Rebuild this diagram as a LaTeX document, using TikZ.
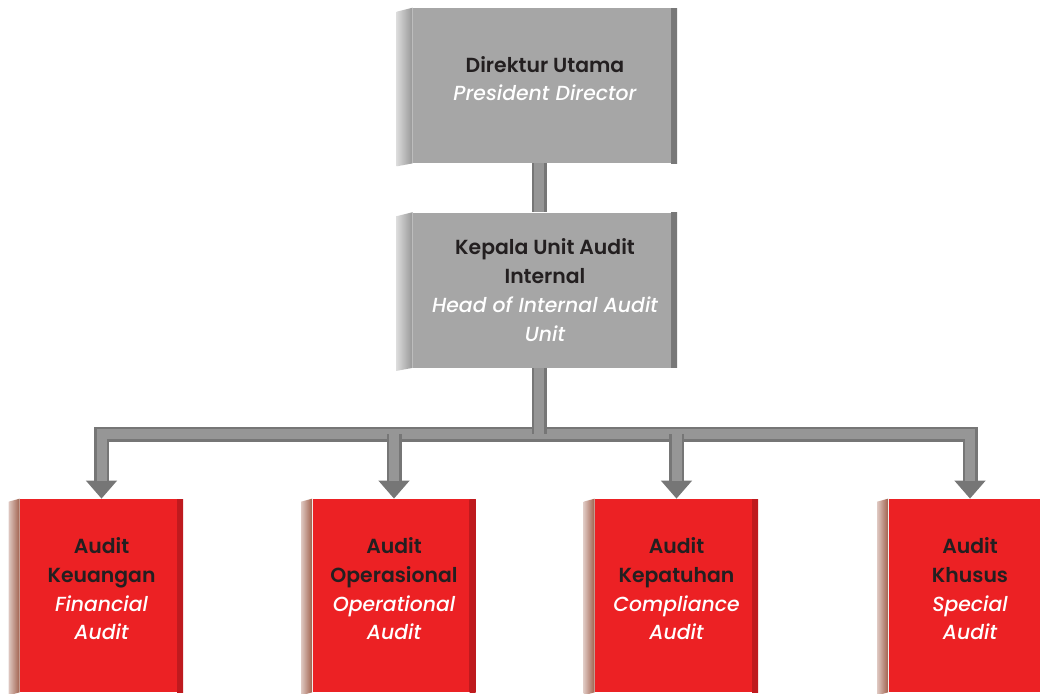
\documentclass[tikz,border=0pt]{standalone}
\usepackage{fontspec}
\setmainfont{Poppins}[UprightFont=* Medium, ItalicFont=* Medium Italic, BoldFont=* SemiBold]
\usetikzlibrary{arrows.meta}
\definecolor{boxgray}{RGB}{166,166,166}
\definecolor{sidegray}{RGB}{150,150,150}
\definecolor{auditred}{RGB}{236,33,36}
\definecolor{darkred}{RGB}{190,26,30}
\definecolor{sidetan}{RGB}{160,96,76}
\definecolor{bargray}{RGB}{118,118,118}
\definecolor{barlight}{RGB}{150,150,150}
\definecolor{txtdark}{RGB}{35,31,32}
\tikzset{
  >={Triangle[width=6mm,length=3.6mm]},
}
\tikzstyle{every node}=[font=\fontsize{11.6}{16.5}\selectfont]
\tikzstyle{graybox}=[fill=boxgray,text=txtdark,align=center,
  minimum width=5.28cm,minimum height=3.1cm,
  path picture={\shade[left color=boxgray,right color=boxgray!72!black]
    ([xshift=-1.2mm]path picture bounding box.north east)
    rectangle (path picture bounding box.south east);}]
\tikzstyle{redbox}=[fill=auditred,text=txtdark,align=center,
  minimum width=3.26cm,minimum height=3.86cm,text depth=2.8mm,
  path picture={\shade[left color=auditred,right color=darkred]
    ([xshift=-1.2mm]path picture bounding box.north east)
    rectangle (path picture bounding box.south east);}]
\tikzstyle{bar}=[line width=3mm,bargray,line join=miter]
\tikzstyle{barlit}=[line width=2mm,barlight,line join=miter]
\newcommand{\id}[1]{\textbf{#1}}
\newcommand{\en}[1]{\textcolor{white}{\itshape #1}}

\begin{document}
\begin{tikzpicture}[x=0.2mm,y=-0.2mm]
  \useasboundingbox (0,0) rectangle (1040,693);
  % boxes
  \node[graybox,text depth=2.8mm] (dirut) at (545,85.5) {\id{Direktur Utama}\\\en{President Director}};
  \node[graybox] (kepala) at (545,290) {\id{Kepala Unit Audit}\\\id{Internal}\\
    \en{Head of Internal Audit}\\\en{Unit}};
  \node[redbox] (keu) at (101.5,595.5) {\id{Audit}\\\id{Keuangan}\\\en{Financial}\\\en{Audit}};
  \node[redbox] (oper) at (394,595.5) {\id{Audit}\\\id{Operasional}\\\en{Operational}\\\en{Audit}};
  \node[redbox] (patuh) at (676.5,595.5) {\id{Audit}\\\id{Kepatuhan}\\\en{Compliance}\\\en{Audit}};
  \node[redbox] (khusus) at (970,595.5) {\id{Audit}\\\id{Khusus}\\\en{Special}\\\en{Audit}};
  % side faces
  \foreach \n in {dirut,kepala}
    \shade[left color=sidegray!35,right color=sidegray]
      (\n.north west) -- ++(-16,4) -- ([shift={(-16,3)}]\n.south west) -- (\n.south west) -- cycle;
  \foreach \n in {keu,oper,patuh,khusus}
    \shade[left color=sidetan!35,right color=sidetan]
      (\n.north west) -- ++(-11,3) -- ([shift={(-11,3)}]\n.south west) -- (\n.south west) -- cycle;
  % connectors
  \coordinate (bus) at (539,434);
  \draw[bar] (dirut.south -| bus) -- (kepala.north -| bus);
  \draw[barlit] (dirut.south -| bus) -- (kepala.north -| bus);
  \draw[bar,<->] (keu.north) -- (keu.north |- bus) -- (khusus.north |- bus) -- (khusus.north);
  \draw[barlit,shorten <=3.6mm,shorten >=3.6mm] (keu.north) -- (keu.north |- bus) -- (khusus.north |- bus) -- (khusus.north);
  \foreach \n in {oper,patuh} {
    \draw[bar,->] (\n.north |- bus) -- (\n.north);
    \draw[barlit,shorten >=3.6mm] (\n.north |- bus) -- (\n.north);
  }
  \draw[bar] (kepala.south -| bus) -- (bus);
  \draw[barlit] (kepala.south -| bus) -- (bus);
\end{tikzpicture}
\end{document}
